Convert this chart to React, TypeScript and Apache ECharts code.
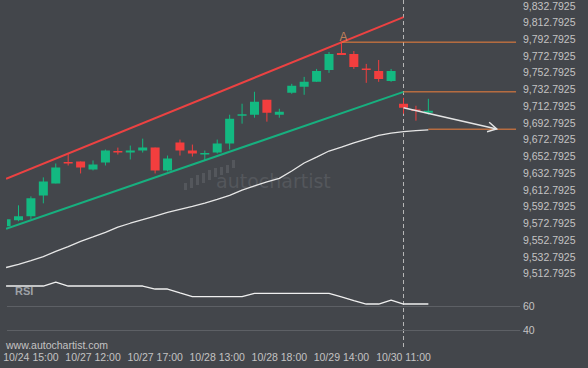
import React, { useEffect, useRef } from "react";
import * as echarts from "echarts";

// ---------- data ----------
const timeLabels = ["10/24 15:00", "10/27 12:00", "10/27 17:00", "10/28 13:00", "10/28 18:00", "10/29 14:00", "10/30 11:00"];
const labelBars = [2, 7, 12, 17, 22, 27, 32];

const opens = [9569.1, 9576.2, 9581.0, 9605.9, 9620.2, 9645.2, 9646.4, 9636.9, 9645.2, 9658.9, 9657.1, 9659.5, 9663.0, 9635.7, 9669.0, 9659.5, 9655.3, 9657.1, 9667.8, 9701.7, 9702.3, 9720.1, 9702.3, 9728.5, 9735.6, 9741.6, 9755.8, 9776.1, 9774.9, 9757.0, 9754.6, 9742.7, 9715.4, 9708.2, 9704.7];
const closes = [9577.4, 9581.0, 9602.4, 9622.6, 9639.2, 9644.4, 9639.2, 9642.8, 9659.5, 9657.1, 9659.5, 9663.0, 9635.7, 9650.0, 9659.5, 9655.9, 9656.0, 9667.8, 9697.5, 9702.3, 9717.8, 9704.7, 9705.9, 9736.8, 9741.6, 9754.6, 9774.9, 9773.7, 9759.4, 9756.3, 9745.1, 9754.6, 9710.6, 9707.0, 9707.1];
const lows = [9567.9, 9575.0, 9577.4, 9596.4, 9620.2, 9641.6, 9632.1, 9635.7, 9641.6, 9654.7, 9648.8, 9657.1, 9632.1, 9634.5, 9653.5, 9652.3, 9647.6, 9655.9, 9660.7, 9691.6, 9698.7, 9694.0, 9698.7, 9727.3, 9726.1, 9741.6, 9752.3, 9773.7, 9757.0, 9740.4, 9741.6, 9741.6, 9703.5, 9695.2, 9702.3];
const highs = [9578.6, 9594.0, 9604.7, 9627.4, 9644.0, 9655.9, 9646.4, 9647.6, 9660.7, 9663.0, 9665.4, 9673.7, 9663.0, 9653.5, 9672.6, 9666.6, 9659.5, 9672.6, 9702.3, 9715.4, 9729.7, 9720.1, 9709.4, 9739.2, 9747.5, 9757.0, 9777.2, 9788.5, 9778.4, 9763.0, 9767.7, 9757.0, 9722.5, 9713.0, 9721.3];

const maValues = [9519.7, 9523.6, 9528.0, 9532.7, 9539.1, 9544.7, 9551.0, 9556.2, 9561.7, 9567.9, 9572.6, 9576.9, 9581.2, 9585.5, 9589.3, 9592.9, 9596.7, 9601.2, 9605.9, 9612.2, 9617.2, 9621.9, 9626.2, 9635.1, 9644.6, 9651.7, 9658.9, 9663.6, 9668.6, 9673.2, 9677.6, 9680.3, 9682.1, 9683.3, 9684.1];
const rsiValues = [76.9, 76.9, 76.9, 76.9, 80.2, 76.9, 76.9, 76.9, 76.9, 76.9, 76.9, 76.9, 74.4, 74.4, 71.1, 68.0, 68.0, 68.0, 68.0, 68.0, 70.8, 70.8, 70.8, 70.8, 70.8, 70.8, 70.8, 67.8, 64.8, 61.9, 61.9, 65.2, 61.9, 61.9, 61.9];

const resistanceLine = [[0, 9625.7], [32, 9818.9]];
const supportLine = [[0, 9566.0], [32, 9729.6]];
const pointA = [27, 9789.0];
const levelStarts = [27, 32, 34];
const levelValues = [9789.0, 9729.6, 9685.0];
const levelEnd = 41.06;
const forecastFrom = [32, 9710.6];
const forecastTo = [39.5, 9685.3];
const currentBar = 32;

const priceMin = 9512.7925;
const priceMax = 9832.7925;
const priceStep = 20;
const rsiLevels = [60, 40];

// ---------- style ----------
const BG = "#43464b";
const GREEN = "#13b981";
const RED = "#f33e3e";
const ORANGE = "#f2803c";
const TEXT = "#c3c3c3";
const FONT = "'Liberation Sans', Arial, sans-serif";
const X_MIN = 0.074;
const X_MAX = 41.378;

export default function App() {
  const ref = useRef<HTMLDivElement>(null);

  useEffect(() => {
    document.body.style.margin = "0";
    document.body.style.background = BG;
    const chart = echarts.init(ref.current!, null, { renderer: "svg" });

    const candleData = opens.map((o, i) => [i, o, closes[i], lows[i], highs[i]]);

    const levelSeries = levelValues.map((v, k) => ({
      type: "line",
      xAxisIndex: 0,
      yAxisIndex: 0,
      data: [[levelStarts[k], v], [levelEnd, v]],
      showSymbol: false,
      symbol: "none",
      lineStyle: { color: ORANGE, width: 1 },
      silent: true,
      z: 3,
    }));

    const priceLabel = (v: number) => {
      const k = Math.round((v - priceMin) / priceStep);
      const val = priceMin + k * priceStep;
      return val.toLocaleString("en-US", { minimumFractionDigits: 4, maximumFractionDigits: 4 });
    };

    const option: any = {
      animation: false,
      backgroundColor: BG,
      grid: [
        { left: 7, top: 4.3, width: 513, height: 269 },
        { left: 7, top: 270.3, width: 513, height: 60 },
      ],
      xAxis: [
        {
          type: "value", gridIndex: 0, min: X_MIN, max: X_MAX,
          axisLabel: { show: false }, axisLine: { show: false }, axisTick: { show: false }, splitLine: { show: false },
        },
        {
          type: "value", gridIndex: 1, min: X_MIN, max: X_MAX,
          axisLine: { show: false }, axisTick: { show: false }, splitLine: { show: false },
          axisLabel: {
            customValues: labelBars,
            formatter: (v: number) => {
              const k = labelBars.indexOf(Math.round(v));
              return k >= 0 ? timeLabels[k] : "";
            },
            color: TEXT, fontSize: 10.5, fontFamily: FONT, margin: 21,
          },
        },
      ],
      yAxis: [
        {
          type: "value", gridIndex: 0, position: "right", min: priceMin, max: priceMax, interval: priceStep,
          axisLine: { show: false }, axisTick: { show: false }, splitLine: { show: false },
          axisLabel: { color: TEXT, fontSize: 10.5, fontFamily: FONT, margin: 3, formatter: priceLabel },
        },
        {
          type: "value", gridIndex: 1, position: "right", min: 40, max: 90, interval: 20,
          axisLine: { show: false }, axisTick: { show: false }, splitLine: { show: false },
          axisLabel: {
            color: TEXT, fontSize: 10.5, fontFamily: FONT, margin: 3,
            formatter: (v: number) => (rsiLevels.indexOf(Math.round(v)) >= 0 ? String(Math.round(v)) : ""),
          },
        },
      ],
      series: [
        {
          type: "line", xAxisIndex: 0, yAxisIndex: 0,
          data: maValues.map((v, i) => [i, v]),
          showSymbol: false, symbol: "none",
          lineStyle: { color: "#e6e6e6", width: 1.3 }, z: 2,
        },
        {
          type: "line", xAxisIndex: 0, yAxisIndex: 0, data: resistanceLine,
          showSymbol: false, symbol: "none", lineStyle: { color: "#ec4242", width: 2 }, z: 3,
        },
        {
          type: "line", xAxisIndex: 0, yAxisIndex: 0, data: supportLine,
          showSymbol: false, symbol: "none", lineStyle: { color: "#17b07f", width: 2 }, z: 3,
        },
        ...levelSeries,
        {
          type: "custom", xAxisIndex: 0, yAxisIndex: 0, clip: true, z: 4,
          data: candleData,
          encode: { x: 0, y: [1, 2, 3, 4] },
          renderItem: (params: any, api: any) => {
            const i = api.value(0);
            const o = api.value(1), c = api.value(2), l = api.value(3), h = api.value(4);
            const pO = api.coord([i, o]);
            const pC = api.coord([i, c]);
            const pL = api.coord([i, l]);
            const pH = api.coord([i, h]);
            const bw = api.size([0.725, 0])[0];
            const color = c >= o ? GREEN : RED;
            let top = Math.min(pO[1], pC[1]);
            let hh = Math.abs(pO[1] - pC[1]);
            if (hh < 1.5) { top -= (1.5 - hh) / 2; hh = 1.5; }
            return {
              type: "group",
              children: [
                { type: "line", shape: { x1: pO[0], y1: pH[1], x2: pO[0], y2: pL[1] }, style: { stroke: color, lineWidth: 1 } },
                { type: "rect", shape: { x: pO[0] - bw / 2, y: top, width: bw, height: hh }, style: { fill: color } },
              ],
            };
          },
        },
        {
          type: "custom", xAxisIndex: 0, yAxisIndex: 0, clip: false, z: 5,
          data: [[forecastFrom[0], forecastFrom[1], forecastTo[0], forecastTo[1]]],
          encode: { x: [0, 2], y: [1, 3] },
          renderItem: (params: any, api: any) => {
            const p1 = api.coord([api.value(0), api.value(1)]);
            const p2 = api.coord([api.value(2), api.value(3)]);
            const ang = Math.atan2(p2[1] - p1[1], p2[0] - p1[0]);
            const L = 10, A = 0.5;
            const a1 = [p2[0] - L * Math.cos(ang - A), p2[1] - L * Math.sin(ang - A)];
            const a2 = [p2[0] - L * Math.cos(ang + A), p2[1] - L * Math.sin(ang + A)];
            const st = { stroke: "#e4e4e4", lineWidth: 1.5, fill: "none" };
            return {
              type: "group",
              children: [
                { type: "line", shape: { x1: p1[0], y1: p1[1], x2: p2[0], y2: p2[1] }, style: st },
                { type: "polyline", shape: { points: [a1, p2, a2] }, style: st },
              ],
            };
          },
        },
        {
          type: "scatter", xAxisIndex: 0, yAxisIndex: 0, z: 6,
          data: [pointA], symbolSize: 1, itemStyle: { color: "rgba(0,0,0,0)" },
          label: {
            show: true, formatter: "A", position: "top", distance: 0, offset: [2, 1],
            color: "#e0905e", fontSize: 12, fontFamily: FONT,
          },
          silent: true,
        },
        {
          type: "line", xAxisIndex: 1, yAxisIndex: 1,
          data: rsiValues.map((v, i) => [i, v]),
          showSymbol: false, symbol: "none",
          lineStyle: { color: "#efefef", width: 1.3 }, z: 3,
          markLine: {
            silent: true, symbol: "none", label: { show: false },
            lineStyle: { color: "#5d6065", width: 1, type: "solid" },
            data: rsiLevels.map((v) => ({ yAxis: v })),
          },
        },
      ],
    };

    chart.setOption(option);

    const xNow = chart.convertToPixel({ xAxisIndex: 0 }, currentBar) as number;
    const wm = "#54575c";
    const bars = [[184, 183, 190], [190, 178, 188], [196, 175, 185], [202, 173, 183], [208, 170, 180], [214, 168, 177], [220, 167, 175], [226, 165, 173], [232, 160, 168]];
    chart.setOption({
      graphic: [
        {
          type: "group", z: 0, silent: true,
          children: [
            ...bars.map((b) => ({ type: "rect", shape: { x: b[0], y: b[1], width: 3, height: b[2] - b[1] }, style: { fill: wm } })),
            { type: "text", style: { x: 216, y: 190, text: "autochartist", fill: wm, fontSize: 19, fontFamily: "'DejaVu Sans', sans-serif", verticalAlign: "bottom" } },
          ],
        },
        {
          type: "line", z: 1, silent: true,
          shape: { x1: xNow, y1: 0, x2: xNow, y2: 350 },
          style: { stroke: "#b8b8b8", lineWidth: 1, lineDash: [4, 3] },
        },
        {
          type: "text", z: 10, silent: true,
          style: { x: 6, y: 344.5, text: "www.autochartist.com", fill: TEXT, fontSize: 10.5, fontFamily: FONT, verticalAlign: "middle" },
        },
        {
          type: "text", z: 10, silent: true,
          style: { x: 15, y: 291, text: "RSI", fill: "#9da1a6", fontSize: 11, fontWeight: "bold", fontFamily: FONT, verticalAlign: "middle" },
        },
      ],
    });

    return () => chart.dispose();
  }, []);

  return <div ref={ref} style={{ position: "absolute", left: 0, top: 0, width: 588, height: 368, background: BG }} />;
}
